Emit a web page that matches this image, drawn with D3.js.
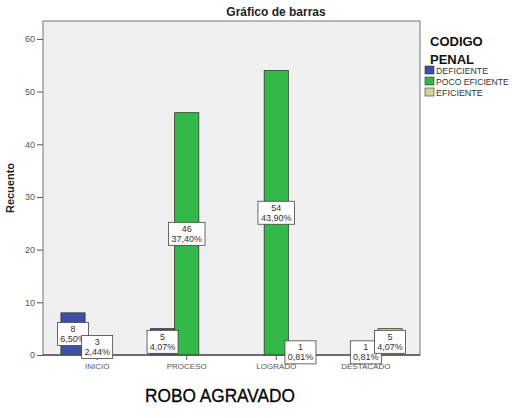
<!DOCTYPE html>
<meta charset="utf-8">
<script src="https://d3js.org/d3.v7.min.js"></script>
<style>
body { margin: 0; background: #fff; }
text { font-family: Arial, "Liberation Sans", sans-serif; }
.axis text { fill: #555; font-size: 9px; }
.axis path, .axis line { stroke: #555; }
</style>
<body>
<div id="chart"></div>
<script>
// data
var categories = ['INICIO', 'PROCESO', 'LOGRADO', 'DESTACADO'];
var seriesNames = ['DEFICIENTE', 'POCO EFICIENTE', 'EFICIENTE'];
var deficiente = [8, 5, 0, 0];
var pocoEficiente = [3, 46, 54, 1];
var eficiente = [0, 0, 1, 5];
var yTicks = [0, 10, 20, 30, 40, 50, 60];
var groupColor = ['#3d4fa6', '#33b84a', '#d3d49b'];

var seriesValues = [deficiente, pocoEficiente, eficiente];
var total = d3.sum(seriesValues, function(s) { return d3.sum(s); });

var rows = [];
for (var i = 0; i < categories.length; i++) {
    for (var j = 0; j < seriesNames.length; j++) {
        if (seriesValues[j][i] > 0) {
            rows.push({cat: categories[i], serie: seriesNames[j], value: seriesValues[j][i], idx: j});
        }
    }
}

var W = 516, H = 418;
var margin = {top: 21, right: 96, bottom: 63, left: 43};
var svg = d3.select('#chart').append('svg')
    .attr('width', W)
    .attr('height', H);

var xscale = d3.scaleBand()
    .domain(categories)
    .range([margin.left, W - margin.right])
    .paddingInner(0.19)
    .paddingOuter(0.2);

var xinner = d3.scaleBand()
    .domain(seriesNames)
    .range([0, xscale.bandwidth()]);

var yscale = d3.scaleLinear()
    .domain([0, 63.4])
    .range([H - margin.bottom, margin.top]);

// plot background
svg.append('rect')
    .attr('x', margin.left)
    .attr('y', margin.top)
    .attr('width', W - margin.right - margin.left)
    .attr('height', H - margin.bottom - margin.top)
    .attr('fill', '#f0f0f0')
    .attr('stroke', '#8a8a8a')
    .attr('stroke-width', 1.2);

// bars
svg.selectAll('.bar')
    .data(rows)
    .enter()
    .append('rect')
    .attr('class', 'bar')
    .attr('x', function(d) { return xscale(d.cat) + xinner(d.serie); })
    .attr('y', function(d) { return yscale(d.value); })
    .attr('width', xinner.bandwidth())
    .attr('height', function(d) { return yscale(0) - yscale(d.value); })
    .attr('fill', function(d) { return groupColor[d.idx]; })
    .attr('stroke', '#2f3a2f')
    .attr('stroke-width', 0.8);

// axes
var yaxis = d3.axisLeft(yscale).tickValues(yTicks).tickSize(6).tickPadding(2);
svg.append('g')
    .attr('class', 'axis')
    .attr('transform', 'translate(' + margin.left + ',0)')
    .call(yaxis)
    .call(function(g) { g.select('.domain').remove(); });

var xaxis = d3.axisBottom(xscale).tickSize(5).tickPadding(3);
svg.append('g')
    .attr('class', 'axis')
    .attr('transform', 'translate(0,' + yscale(0) + ')')
    .call(xaxis)
    .call(function(g) {
        g.select('.domain').remove();
        g.selectAll('text').style('font-size', '8px').style('fill', '#555');
    });

svg.append('line')
    .attr('x1', margin.left)
    .attr('x2', W - margin.right)
    .attr('y1', yscale(0))
    .attr('y2', yscale(0))
    .attr('stroke', '#555')
    .attr('stroke-width', 1.5);

// value labels
var fmt = function(v) { return (v / total * 100).toFixed(2).replace('.', ',') + '%'; };
var labels = svg.selectAll('.lbl')
    .data(rows)
    .enter()
    .append('g')
    .attr('class', 'lbl')
    .attr('transform', function(d) {
        var cx = xscale(d.cat) + xinner(d.serie) + xinner.bandwidth() / 2;
        var cy = (yscale(d.value) + yscale(0)) / 2;
        return 'translate(' + cx + ',' + cy + ')';
    });

labels.each(function(d) {
    var g = d3.select(this);
    var bw = fmt(d.value).length * 5.6 + 3;
    g.append('rect')
        .attr('x', -bw / 2)
        .attr('y', -11.5)
        .attr('width', bw)
        .attr('height', 23)
        .attr('fill', '#fff')
        .attr('stroke', '#444')
        .attr('stroke-width', 0.8);
    g.append('text')
        .attr('text-anchor', 'middle')
        .attr('y', -2)
        .style('font-size', '9px')
        .style('fill', '#333')
        .text(d.value);
    g.append('text')
        .attr('text-anchor', 'middle')
        .attr('y', 8)
        .style('font-size', '9px')
        .style('fill', '#333')
        .text(fmt(d.value));
});

// titles
svg.append('text')
    .text('Gráfico de barras')
    .attr('text-anchor', 'middle')
    .attr('x', 276)
    .attr('y', 16)
    .style('font-size', '12px')
    .style('font-weight', 'bold')
    .style('fill', '#222');

svg.append('text')
    .text('Recuento')
    .attr('transform', 'rotate(-90)')
    .attr('text-anchor', 'middle')
    .attr('x', -188)
    .attr('y', 14)
    .style('font-size', '11px')
    .style('font-weight', 'bold')
    .style('fill', '#222');

svg.append('text')
    .text('ROBO AGRAVADO')
    .attr('text-anchor', 'middle')
    .attr('x', 220)
    .attr('y', 402)
    .attr('textLength', 150)
    .attr('lengthAdjust', 'spacingAndGlyphs')
    .style('font-size', '19px')
    .style('fill', '#000')
    .style('stroke', '#000')
    .style('stroke-width', 0.3);

// legend
svg.append('text')
    .text('CODIGO')
    .attr('x', 430)
    .attr('y', 46)
    .style('font-size', '13px')
    .style('font-weight', 'bold')
    .style('fill', '#111');
svg.append('text')
    .text('PENAL')
    .attr('x', 430)
    .attr('y', 64)
    .style('font-size', '13px')
    .style('font-weight', 'bold')
    .style('fill', '#111');

var legend = svg.selectAll('.legend')
    .data(seriesNames)
    .enter()
    .append('g')
    .attr('class', 'legend')
    .attr('transform', function(d, i) { return 'translate(425,' + (66 + i * 11) + ')'; });

legend.append('rect')
    .attr('width', 9)
    .attr('height', 8)
    .attr('fill', function(d, i) { return groupColor[i]; })
    .attr('stroke', '#333')
    .attr('stroke-width', 0.6);

legend.append('text')
    .attr('x', 11)
    .attr('y', 7.5)
    .attr('textLength', function(d) { return d.length * 5.2; })
    .attr('lengthAdjust', 'spacingAndGlyphs')
    .style('font-size', '8.5px')
    .style('fill', '#333')
    .text(function(d) { return d; });
</script>
</body>
